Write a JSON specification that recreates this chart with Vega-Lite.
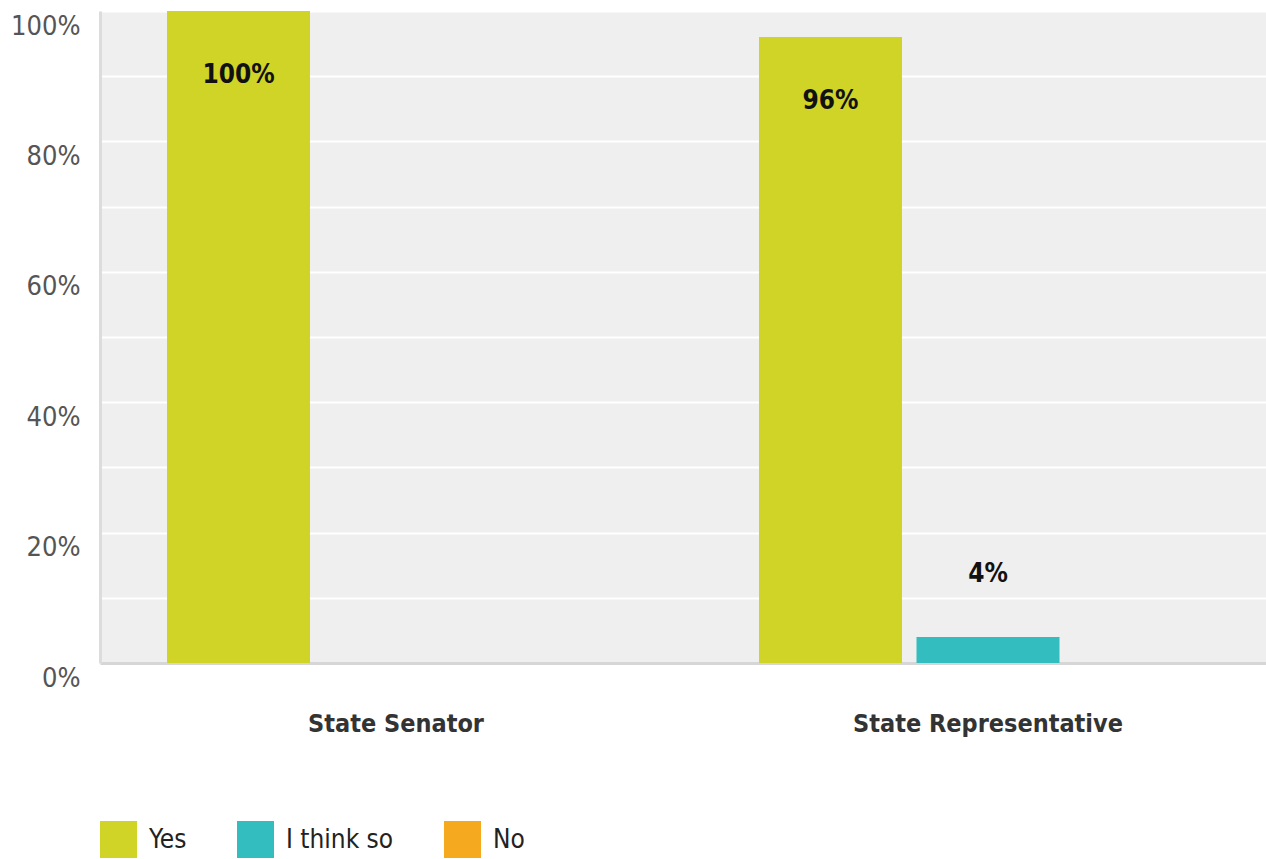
{
  "$schema": "https://vega.github.io/schema/vega-lite/v6.json",
  "width": 1166,
  "height": 652,
  "autosize": {"type": "none"},
  "padding": {"left": 100, "top": 11, "right": 0, "bottom": 196},
  "background": "white",
  "config": {
    "view": {"fill": "#efefef", "stroke": null},
    "font": "DejaVu Sans Condensed, sans-serif"
  },
  "data": {
    "values": [
      {"position": "State Senator", "answer": "Yes", "value": 100, "label": "100%"},
      {"position": "State Senator", "answer": "I think so", "value": 0, "label": "0%"},
      {"position": "State Senator", "answer": "No", "value": 0, "label": "0%"},
      {"position": "State Representative", "answer": "Yes", "value": 96, "label": "96%"},
      {"position": "State Representative", "answer": "I think so", "value": 4, "label": "4%"},
      {"position": "State Representative", "answer": "No", "value": 0, "label": "0%"}
    ]
  },
  "encoding": {
    "x": {
      "field": "position",
      "type": "nominal",
      "sort": ["State Senator", "State Representative"],
      "scale": {"paddingInner": 0, "paddingOuter": 0, "range": [0, 1184]},
      "axis": {
        "title": null,
        "labelAngle": 0,
        "labelFontSize": 25,
        "labelFontWeight": "bold",
        "labelColor": "#333333",
        "labelPadding": 48,
        "labelLimit": 0,
        "ticks": false,
        "tickSize": 0,
        "domainColor": "#d6d6d6",
        "domainWidth": 3,
        "grid": false
      }
    },
    "xOffset": {
      "field": "answer",
      "type": "nominal",
      "sort": ["Yes", "I think so", "No"],
      "scale": {"paddingInner": 0.092, "paddingOuter": 0.4255}
    },
    "y": {
      "field": "value",
      "type": "quantitative",
      "scale": {"domain": [0, 100], "nice": false},
      "axis": {
        "title": null,
        "values": [0, 10, 20, 30, 40, 50, 60, 70, 80, 90, 100],
        "labelExpr": "datum.value % 20 == 0 ? datum.value + '%' : ''",
        "grid": true,
        "gridColor": "#ffffff",
        "gridWidth": 2,
        "ticks": false,
        "tickSize": 0,
        "domain": true,
        "domainColor": "#dcdcdc",
        "domainWidth": 3,
        "labelFontSize": 27,
        "labelColor": "#555555",
        "labelPadding": 20,
        "labelOffset": 15,
        "labelBaseline": "middle"
      }
    }
  },
  "layer": [
    {
      "mark": {"type": "bar"},
      "encoding": {
        "color": {
          "field": "answer",
          "type": "nominal",
          "sort": ["Yes", "I think so", "No"],
          "scale": {"domain": ["Yes", "I think so", "No"], "range": ["#cfd427", "#33bdbf", "#f5a91f"]},
          "legend": {
            "title": null,
            "orient": "bottom",
            "direction": "horizontal",
            "symbolType": "square",
            "symbolSize": 1369,
            "symbolStrokeWidth": 0,
            "symbolOpacity": 1,
            "labelFontSize": 26,
            "labelColor": "#222222",
            "labelOffset": 12,
            "columnPadding": 50,
            "offset": 85,
            "padding": 0
          }
        }
      }
    },
    {
      "transform": [{"filter": "datum.value >= 50"}],
      "mark": {"type": "text", "dy": 64, "fontSize": 26, "fontWeight": "bold", "color": "#111111", "baseline": "middle"},
      "encoding": {"text": {"field": "label"}}
    },
    {
      "transform": [{"filter": "datum.value > 0 && datum.value < 50"}],
      "mark": {"type": "text", "dy": -63, "fontSize": 26, "fontWeight": "bold", "color": "#111111", "baseline": "middle"},
      "encoding": {"text": {"field": "label"}}
    }
  ]
}
